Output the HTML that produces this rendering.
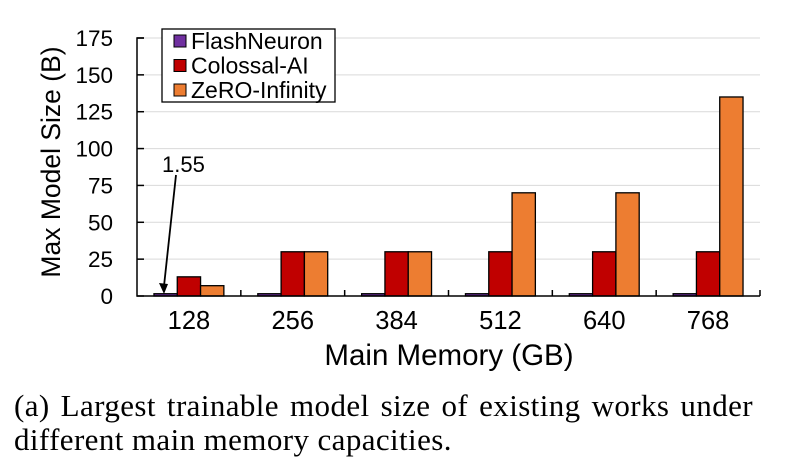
<!DOCTYPE html>
<html><head><meta charset="utf-8"><style>
body{margin:0;background:#fff;width:789px;height:456px;overflow:hidden}
svg{position:absolute;left:0;top:0}
.cap{position:absolute;left:14px;top:389px;width:739px;font-family:"Liberation Serif",serif;font-size:31px;letter-spacing:0.4px;line-height:34px;color:#000}
.l1{text-align:justify;text-align-last:justify;white-space:nowrap}
</style></head><body>
<svg width="789" height="380" id="chart"></svg>
<div class="cap"><div class="l1">(a) Largest trainable model size of existing works under</div><div>different main memory capacities.</div></div>
<script>
const categories=["128","256","384","512","640","768"];
const flashNeuron=[1.55,1.55,1.55,1.55,1.55,1.55];
const colossalAI=[13,30,30,30,30,30];
const zeroInfinity=[7,30,30,70,70,135];
const yTicks=[0,25,50,75,100,125,150,175];
const seriesNames=["FlashNeuron","Colossal-AI","ZeRO-Infinity"];
const colors=["#7030a0","#c00000","#ed7d31"];
const NS="http://www.w3.org/2000/svg";
const svg=document.getElementById('chart');
const X0=137,X1=760,Y0=296,YT=38,YMAX=175;
const y=v=>Y0-(v/YMAX)*(Y0-YT);
const gw=(X1-X0)/categories.length;
const bw=23.3;
function el(t,a,p){const e=document.createElementNS(NS,t);for(const k in a)e.setAttribute(k,a[k]);(p||svg).appendChild(e);return e;}
yTicks.forEach(t=>{
 if(t>0){const g=el('line',{x1:X0,x2:X1,y1:y(t),y2:y(t),stroke:'#d9d9d9','stroke-width':1});
 
 }
 const tk=el('line',{x1:X0,x2:X0+7,y1:y(t),y2:y(t),stroke:'#000','stroke-width':1.5});
 
 
 const tx=el('text',{x:113,y:y(t)+8,'text-anchor':'end','font-family':'Liberation Sans, sans-serif','font-size':22.5});
 tx.textContent=t;
 
 
});
const series=[flashNeuron,colossalAI,zeroInfinity];
categories.forEach((c,i)=>{
 const gx=X0+i*gw, start=gx+(gw-3*bw)/2;
 series.forEach((s,j)=>{
  const r=el('rect',{x:start+j*bw,y:y(s[i]),width:bw,height:Y0-y(s[i]),fill:colors[j],stroke:'#000','stroke-width':1.3});
  
  
 });
 const tx=el('text',{x:gx+gw/2,y:329,'text-anchor':'middle','font-family':'Liberation Sans, sans-serif','font-size':25.5});
 tx.textContent=c;
 
 
 const tk=el('line',{x1:gx+gw,x2:gx+gw,y1:Y0,y2:Y0-6,stroke:'#000','stroke-width':1.5});
 
 
});
const ax=el('path',{d:`M${X0+7},${YT} H${X0} V${Y0} H${X1}`,fill:'none',stroke:'#000','stroke-width':1.5});


const ann=el('text',{x:162,y:172,'font-family':'Liberation Sans, sans-serif','font-size':22});
ann.textContent='1.55';


const arr=el('line',{x1:176,y1:175,x2:164,y2:286,stroke:'#000','stroke-width':1.8});


el('path',{d:'M159,283 L164,294 L168,284 Z',fill:'#000'});
const lg=el('g',{});


el('rect',{x:162,y:29,width:173,height:73,fill:'#fff',stroke:'#000','stroke-width':1.3},lg);
seriesNames.forEach((n,j)=>{
 const cy=41+j*24.5;
 const e=el('g',{},lg);
 
 
 el('rect',{x:174,y:cy-6,width:12,height:12,fill:colors[j],stroke:'#000','stroke-width':1},e);
 const t=el('text',{x:191,y:cy+8,'font-family':'Liberation Sans, sans-serif','font-size':23},e);
 t.textContent=n;
});
const xt=el('text',{x:449,y:365,'text-anchor':'middle','font-family':'Liberation Sans, sans-serif','font-size':29.5});
xt.textContent='Main Memory (GB)';


const yt=el('text',{x:0,y:0,'text-anchor':'middle','font-family':'Liberation Sans, sans-serif','font-size':26.5,transform:'translate(60,162) rotate(-90)'});
yt.textContent='Max Model Size (B)';


</script>
</body></html>
